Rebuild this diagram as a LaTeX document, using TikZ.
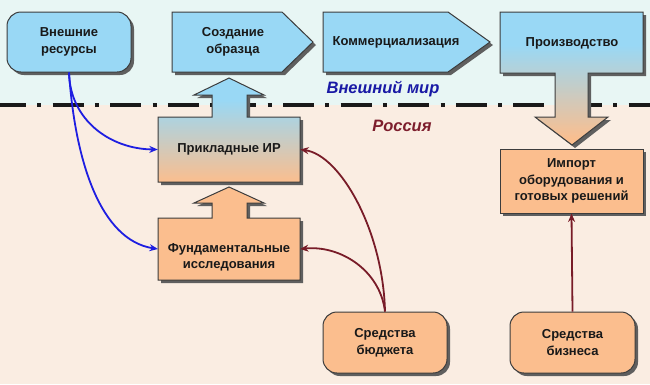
\documentclass[tikz,border=0pt]{standalone}
\usepackage{fontspec}
\setmainfont{Liberation Sans}
\usetikzlibrary{arrows.meta,shadows}
\definecolor{bgtop}{RGB}{232,246,244}
\definecolor{bgbot}{RGB}{250,237,226}
\definecolor{boxblue}{RGB}{153,216,245}
\definecolor{boxorange}{RGB}{251,190,142}
\definecolor{edgec}{RGB}{60,60,60}
\definecolor{shadowc}{RGB}{95,95,95}
\definecolor{linkblue}{RGB}{30,30,225}
\definecolor{linkred}{RGB}{120,28,40}
\definecolor{worldblue}{RGB}{25,25,165}
\definecolor{rusred}{RGB}{125,30,45}
\definecolor{textc}{RGB}{25,25,25}
\begin{document}
\begin{tikzpicture}[x=1pt,y=-1pt,
  lbl/.style={font=\fontsize{13}{16.5}\selectfont\bfseries, align=center, text=textc, inner sep=0pt},
  outline/.style={draw=edgec, line width=1pt},
  boxshadow/.style={drop shadow={shadow xshift=3pt, shadow yshift=-3pt, opacity=1, fill=shadowc}},
  plainbox/.style={lbl, outline, boxshadow},
  roundbox/.style={plainbox, rounded corners=14pt},
  link/.style={line width=1.8pt, -{Stealth[length=8.5pt,width=7pt]}},
  bluelink/.style={link, draw=linkblue},
  redlink/.style={link, draw=linkred},
  region/.style={font=\fontsize{16.5}{18}\selectfont\bfseries\itshape, inner sep=0pt, anchor=base},
  shapeSozd/.style={insert path={(172,12) -- (282,12) -- (313,42) -- (282,72) -- (172,72) -- cycle}},
  shapeKomm/.style={insert path={(323,12) -- (448,12) -- (490,42) -- (448,72) -- (323,72) -- cycle}},
  shapeProiz/.style={insert path={(500,12) -- (643,12) -- (643,73) -- (588,73) -- (588,117) -- (608,117) -- (572,145) -- (535,117) -- (555,117) -- (555,73) -- (500,73) -- cycle}},
  shapePrikl/.style={insert path={(158,117) -- (212,117) -- (212,95) -- (194,95) -- (229,78) -- (264,95) -- (247,95) -- (247,117) -- (300,117) -- (300,182) -- (158,182) -- cycle}},
  shapeFund/.style={insert path={(158,218) -- (212,218) -- (212,203) -- (194,203) -- (229,187) -- (264,203) -- (247,203) -- (247,218) -- (300,218) -- (300,280) -- (158,280) -- cycle}},
]
\useasboundingbox (0,0) rectangle (650,384);
% background
\fill[bgtop] (0,0) rectangle (650,105);
\fill[bgbot] (0,105) rectangle (650,384);
% border line
\draw[line width=4.6pt, draw=black!90, dash pattern=on 31pt off 11.3pt on 4pt off 11.3pt, dash phase=5pt] (0,105) -- (650,105);

% shadows of drawn shapes
\fill[shadowc, shift={(3,3)}, shapeSozd];
\fill[shadowc, shift={(3,3)}, shapeKomm];
\fill[shadowc, shift={(3,3)}, shapeProiz];
\fill[shadowc, shift={(3,3)}, shapePrikl];
\fill[shadowc, shift={(3,3)}, shapeFund];

% Создание образца, Коммерциализация
\fill[boxblue, shapeSozd];
\draw[outline, shapeSozd];
\fill[boxblue, shapeKomm];
\draw[outline, shapeKomm];

% Производство with arrow
\begin{scope}
  \path[clip, shapeProiz];
  \fill[boxblue] (500,12) rectangle (643,145);
  \shade[top color=boxblue, bottom color=boxorange] (500,45) rectangle (643,140);
  \fill[boxorange] (500,140) rectangle (643,146);
\end{scope}
\draw[outline, shapeProiz];

% Прикладные ИР with arrow
\begin{scope}
  \path[clip, shapePrikl];
  \fill[boxblue] (158,78) rectangle (300,182);
  \shade[top color=boxblue, bottom color=boxorange] (158,100) rectangle (300,182);
\end{scope}
\draw[outline, shapePrikl];

% Фундаментальные исследования with arrow
\fill[boxorange, shapeFund];
\draw[outline, shapeFund];

% text nodes
\node[lbl] (sozd) at (233,42) {Создание\\образца};
\node[lbl] (komm) at (396,42) {Коммерциализация};
\node[lbl] (proiz) at (572,43) {Производство};
\node[lbl, minimum width=142pt, minimum height=65pt] (prikl) at (229,149.5) {Прикладные ИР};
\node[lbl] (fund) at (229,257.5) {Фундаментальные\\исследования};
\coordinate (fundE) at (300,249);
\coordinate (fundW) at (158,249);

% plain boxes
\node[roundbox, fill=boxblue, minimum width=124pt, minimum height=60pt] (vr) at (69,42) {Внешние\\ресурсы};
\node[plainbox, fill=boxorange, minimum width=143pt, minimum height=64pt] (imp) at (571.5,181) {Импорт\\оборудования и\\готовых решений};
\node[roundbox, fill=boxorange, minimum width=124pt, minimum height=61pt] (bud) at (385,342.5) {Средства\\бюджета};
\node[roundbox, fill=boxorange, minimum width=125pt, minimum height=61pt] (biz) at (572.5,342.5) {Средства\\бизнеса};

% region labels
\node[region, text=worldblue] (world) at (383,93) {Внешний мир};
\node[region, text=rusred] (rus) at (402,131) {Россия};

% connectors
\draw[bluelink] (vr.south) .. controls (70,120) and (110,149) .. (prikl.west);
\draw[bluelink] (vr.south) .. controls (75,160) and (100,240) .. (fundW);
\draw[redlink] (bud.north) .. controls (383,230) and (340,155) .. (prikl.east);
\draw[redlink] (bud.north) .. controls (380,270) and (340,245) .. (fundE);
\draw[redlink] (biz.north) -- (imp.south);
\end{tikzpicture}
\end{document}
